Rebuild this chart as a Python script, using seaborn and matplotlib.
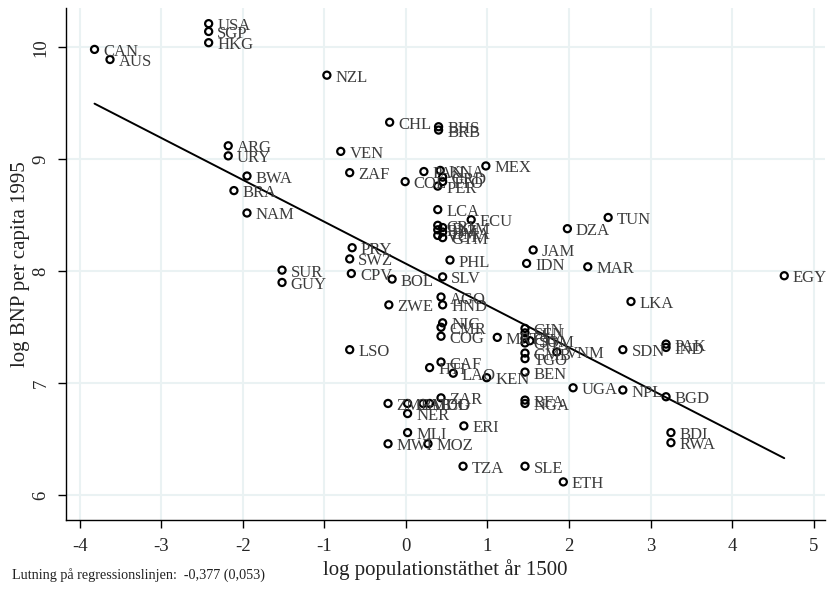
import matplotlib
matplotlib.use("Agg")
import matplotlib.pyplot as plt
import seaborn as sns
import pandas as pd

codes = ["CAN","AUS","USA","SGP","HKG","NZL","ARG","URY","BWA","BRA","NAM",
         "CHL","BHS","BRB","VEN","ZAF","COL","MEX","PAN","KNA","GRD","TTO","PER",
         "LCA","ECU","CRI","DOM","BLZ","DMA","VCT","GTM",
         "TUN","DZA","JAM","IDN","MAR","EGY","LKA",
         "PRY","SWZ","CPV","BOL","SUR","GUY","PHL","SLV","ZWE","AGO","HND",
         "NIC","CMR","COG","MRT","LSO",
         "GIN","SEN","CIV","GHA","SOM","GMB","TGO","VNM","BEN","BFA","NGA",
         "KEN","SDN","PAK","IND","UGA","NPL","BGD","BDI","RWA","SLE","ETH","TZA","ERI",
         "CAF","HTI","LAO","ZAR","ZMB","GAB","MDG","TCD","NER","MLI","MWI","MOZ"]
logdens = [-3.82,-3.63,-2.42,-2.42,-2.42,-0.97,-2.18,-2.18,-1.95,-2.11,-1.95,
           -0.20,0.40,0.40,-0.80,-0.69,-0.01,0.98,0.22,0.42,0.45,0.45,0.39,
           0.39,0.80,0.39,0.45,0.39,0.45,0.39,0.45,
           2.48,1.98,1.56,1.48,2.23,4.64,2.76,
           -0.66,-0.69,-0.67,-0.17,-1.52,-1.52,0.54,0.45,-0.21,0.43,0.45,
           0.45,0.43,0.43,1.12,-0.69,
           1.46,1.46,1.46,1.46,1.52,1.46,1.46,1.85,1.46,1.46,1.46,
           0.99,2.66,3.19,3.19,2.05,2.66,3.19,3.25,3.25,1.46,1.93,0.70,0.71,
           0.43,0.29,0.58,0.43,-0.22,0.02,0.21,0.29,0.02,0.02,-0.22,0.27]
loggdp = [9.98,9.89,10.21,10.14,10.04,9.75,9.12,9.03,8.85,8.72,8.52,
          9.33,9.29,9.26,9.07,8.88,8.80,8.94,8.89,8.90,8.84,8.80,8.76,
          8.55,8.46,8.41,8.39,8.37,8.35,8.32,8.30,
          8.48,8.38,8.19,8.07,8.04,7.96,7.73,
          8.21,8.11,7.98,7.93,8.01,7.90,8.10,7.95,7.70,7.77,7.70,
          7.54,7.50,7.42,7.41,7.30,
          7.49,7.45,7.40,7.36,7.38,7.27,7.22,7.28,7.10,6.85,6.82,
          7.05,7.30,7.35,7.32,6.96,6.94,6.88,6.56,6.47,6.26,6.12,6.26,6.62,
          7.19,7.14,7.09,6.87,6.82,6.82,6.82,6.82,6.73,6.56,6.46,6.46]

xticks = [-4,-3,-2,-1,0,1,2,3,4,5]
yticks = [6,7,8,9,10]
xlabel = "log populationstäthet år 1500"
ylabel = "log BNP per capita 1995"
caption = "Lutning på regressionslinjen:  -0,377 (0,053)"

df = pd.DataFrame({"code": codes, "x": logdens, "y": loggdp})

sns.set_style("white")
plt.rcParams["font.family"] = ["Liberation Serif", "DejaVu Serif"]

fig = plt.figure(figsize=(8.3, 5.94), dpi=100)
ax = fig.add_axes([0.0795, 0.1246, 0.9145, 0.862])

sns.regplot(data=df, x="x", y="y", ax=ax, ci=None,
            scatter_kws=dict(facecolors="none", edgecolors="black", linewidths=1.6,
                             s=26, alpha=1, zorder=3),
            line_kws=dict(color="black", linewidth=1.4, zorder=2))

for c, xv, yv in zip(codes, logdens, loggdp):
    ax.annotate(c, (xv, yv), xytext=(6.2, -1.8), textcoords="offset points",
                va="center", ha="left", fontsize=12, color="#3c3c3c", zorder=4,
                annotation_clip=False)

ax.set_xlim(-4.17, 5.14)
ax.set_ylim(5.78, 10.35)
ax.set_xticks(xticks)
ax.set_yticks(yticks)
ax.set_xticklabels([str(t) for t in xticks], fontsize=13.5)
ax.set_yticklabels([str(t) for t in yticks], fontsize=13.5, rotation=90, va="center")
ax.grid(True, color="#eaf2f3", linewidth=1.5, zorder=0)
ax.set_axisbelow(True)
ax.tick_params(axis="x", direction="out", length=6, width=1, color="black", pad=7,
               bottom=True)
ax.tick_params(axis="y", direction="out", length=6, width=1, color="black", pad=6,
               left=True)
sns.despine(ax=ax, top=True, right=True)
for s in ["left", "bottom"]:
    ax.spines[s].set_color("black")
    ax.spines[s].set_linewidth(1)
ax.set_xlabel(xlabel, fontsize=15, color="#222", labelpad=3)
ax.set_ylabel(ylabel, fontsize=15, color="#222", labelpad=2)

fig.text(0.014, 0.032, caption, fontsize=10.2, color="#222", va="center", ha="left")

fig.savefig("out.png", dpi=100)
